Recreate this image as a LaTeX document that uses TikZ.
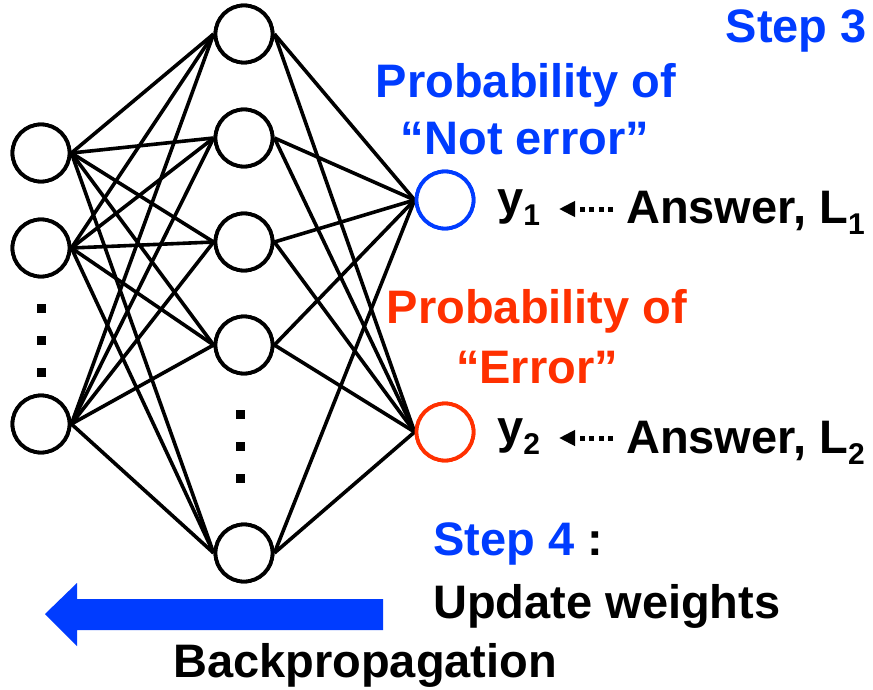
\documentclass[tikz,border=0pt]{standalone}
\usepackage{fontspec}
\setmainfont{Liberation Sans}
\usetikzlibrary{arrows.meta}
\definecolor{myblue}{RGB}{0,60,255}
\definecolor{myred}{RGB}{255,48,0}
\newcommand\mysub[1]{\raisebox{-11pt}{\fontsize{30}{30}\selectfont #1}}
\begin{document}
\begin{tikzpicture}[x=1pt,y=-1pt,
 neuron/.style={circle,draw,line width=3.8pt,minimum size=57pt,inner sep=0pt,fill=white},
 edge/.style={line width=3.6pt},
 dotsq/.style={fill=black,minimum size=9pt,inner sep=0pt},
 lbl/.style={inner sep=0pt,font=\fontsize{47}{56}\selectfont\bfseries},
 dotarrow/.style={line width=5pt,dash pattern=on 5pt off 4.5pt,-{Triangle[length=16pt,width=15pt]}},
 bigarrow/.style={fill=myblue,draw=none}
]
\fill[white] (0,0) rectangle (873,690);
\useasboundingbox (0,0) rectangle (873,690);

% input layer
\node[neuron] (i1) at (41,153) {};
\node[neuron] (i2) at (41,248) {};
\node[neuron] (i3) at (41,424) {};
% hidden layer
\node[neuron] (h1) at (244,34) {};
\node[neuron] (h2) at (244,138) {};
\node[neuron] (h3) at (244,242) {};
\node[neuron] (h4) at (244,345) {};
\node[neuron] (h5) at (244,553) {};
% output layer
\node[neuron,draw=myblue] (o1) at (445,200) {};
\node[neuron,draw=myred] (o2) at (445,432) {};

% connections
\foreach \i in {i1,i2,i3}
  \foreach \h in {h1,h2,h3,h4,h5}
    \draw[edge] (\i.east) -- (\h.west);
\foreach \h in {h1,h2,h3,h4,h5}
  \foreach \o in {o1,o2}
    \draw[edge] (\h.east) -- (\o.west);

% redraw circles on top
\node[neuron] at (i1) {};
\node[neuron] at (i2) {};
\node[neuron] at (i3) {};
\node[neuron] at (h1) {};
\node[neuron] at (h2) {};
\node[neuron] at (h3) {};
\node[neuron] at (h4) {};
\node[neuron] at (h5) {};
\node[neuron,draw=myblue] at (o1) {};
\node[neuron,draw=myred] at (o2) {};

% ellipsis dots
\node[dotsq] (di1) at (41,308) {};
\node[dotsq] (di2) at (41,340) {};
\node[dotsq] (di3) at (41,372) {};
\node[dotsq] (dh1) at (240,414) {};
\node[dotsq] (dh2) at (240,446) {};
\node[dotsq] (dh3) at (240,478) {};

% texts
\node[lbl,text=myblue,anchor=base east] (step3) at (867,43) {Step 3};
\node[lbl,text=myblue,anchor=base] (p1a) at (526,98) {Probability of};
\node[lbl,text=myblue,anchor=base] (p1b) at (525,155) {“Not error”};
\node[lbl,text=myred,anchor=base] (p2a) at (537,323) {Probability of};
\node[lbl,text=myred,anchor=base] (p2b) at (537,383) {“Error”};

\node[lbl,anchor=base west] (y1) at (497,214) {y\mysub{1}};
\node[lbl,anchor=base west] (ans1) at (626,223) {Answer, L\mysub{1}};
\node[lbl,anchor=base west] (y2) at (497,443) {y\mysub{2}};
\node[lbl,anchor=base west] (ans2) at (626,453) {Answer, L\mysub{2}};

\coordinate (a1s) at (613,209);
\coordinate (a1e) at (559,209);
\coordinate (a2s) at (613,438);
\coordinate (a2e) at (559,438);
\draw[dotarrow] (a1s) -- (a1e);
\draw[dotarrow] (a2s) -- (a2e);

\node[lbl,anchor=base west] (step4) at (433,555) {{\color{myblue}Step 4} :};
\node[lbl,anchor=base west] (upd) at (433,618) {Update weights};
\node[lbl,anchor=base west] (bp) at (173,677) {Backpropagation};

% backpropagation arrow
\fill[bigarrow] (383,599) -- (77,599) -- (77,583) -- (45,614) -- (77,646) -- (77,630) -- (383,630) -- cycle;
\end{tikzpicture}
\end{document}
